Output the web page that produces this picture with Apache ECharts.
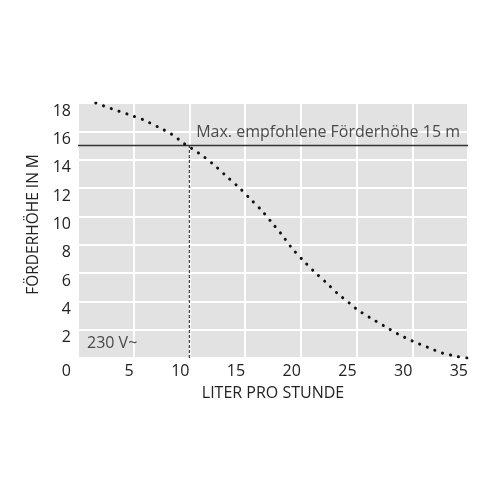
<!DOCTYPE html>
<html>
<head>
<meta charset="utf-8">
<script src="https://cdn.jsdelivr.net/npm/echarts@6/dist/echarts.min.js"></script>
<style>html,body{margin:0;padding:0;background:#fff;}#c{width:500px;height:500px;}</style>
</head>
<body>
<div id="c"></div>
<script>
// Curve: Förderhöhe (m) vs Liter pro Stunde
const flow = [1.6, 3.0, 4.5, 5.9, 7.2, 8.4, 9.5, 10.1, 11.3, 12.4, 13.5, 14.5, 15.5, 16.5, 17.4, 18.3, 19.2, 20.2, 21.2, 22.3, 23.3, 24.4, 25.0, 26.2, 27.5, 28.7, 30.0, 31.4, 32.7, 34.1, 34.9];
const head = [18.0, 17.6, 17.2, 16.8, 16.3, 15.8, 15.15, 14.85, 14.2, 13.5, 12.7, 12.0, 11.2, 10.4, 9.55, 8.7, 7.75, 6.9, 6.1, 5.3, 4.55, 3.85, 3.45, 2.85, 2.25, 1.7, 1.2, 0.75, 0.35, 0.1, 0.0];
const maxHead = 15;          // recommended max head
const maxHeadFlow = 10;      // flow at recommended max head
const xTicks = [0, 5, 10, 15, 20, 25, 30, 35];
const yTicks = [0, 2, 4, 6, 8, 10, 12, 14, 16, 18];
const maxLabel = 'Max. empfohlene Förderhöhe 15 m';
const voltLabel = '230 V~';
const xName = 'LITER PRO STUNDE';
const yName = 'FÖRDERHÖHE IN M';

const FONT = 'Open Sans';
const TXT = '#222';

const chart = echarts.init(document.getElementById('c'), null, {renderer: 'canvas'});
chart.setOption({
  animation: false,
  textStyle: {fontFamily: FONT},
  grid: {left: 78, right: 32, top: 103, bottom: 142, show: true, backgroundColor: '#e2e2e2', borderWidth: 0},
  xAxis: {
    type: 'value', min: xTicks[0], max: xTicks[xTicks.length - 1], interval: 5,
    name: xName, nameLocation: 'middle', nameGap: 27,
    nameTextStyle: {fontSize: 16, color: TXT, fontFamily: FONT},
    axisLine: {show: false}, axisTick: {show: false},
    axisLabel: {
      fontSize: 16, color: TXT, fontFamily: FONT, align: 'right', margin: 5, verticalAlign: 'top',
      formatter: v => v === 0 ? '{z|0}' : String(v),
      rich: {z: {fontSize: 16, color: TXT, fontFamily: FONT, padding: [0, 7, 0, 0]}}
    },
    splitLine: {show: true, lineStyle: {color: '#ffffff', width: 2}}
  },
  yAxis: {
    type: 'value', min: yTicks[0], max: yTicks[yTicks.length - 1], interval: 2,
    name: yName, nameLocation: 'middle', nameGap: 27, nameRotate: 90,
    nameTextStyle: {fontSize: 15.5, color: TXT, fontFamily: FONT, padding: [0, 0, 0, 12]},
    axisLine: {show: false}, axisTick: {show: false},
    axisLabel: {
      fontSize: 16, color: TXT, fontFamily: FONT, margin: 7, verticalAlign: 'top',
      formatter: v => v === 0 ? '' : String(v)
    },
    splitLine: {show: true, lineStyle: {color: '#ffffff', width: 2}}
  },
  series: [
    {
      type: 'line', data: flow.map((x, i) => [x, head[i]]), smooth: 0.3, symbol: 'none',
      lineStyle: {color: '#111', width: 3, type: [0.1, 8.1], cap: 'round'},
      z: 5
    },
    {
      type: 'line', data: [[xTicks[0], maxHead], [xTicks[xTicks.length - 1], maxHead]], symbol: 'none',
      lineStyle: {color: '#333', width: 1.6},
      z: 4
    },
    {
      type: 'line', data: [[maxHeadFlow, 0], [maxHeadFlow, maxHead]], symbol: 'none',
      lineStyle: {color: '#444', width: 1.3, type: [3, 2]},
      z: 3
    },
    {
      type: 'scatter', data: [[xTicks[xTicks.length - 1], maxHead]], symbolSize: 0,
      label: {show: true, formatter: maxLabel, position: 'left', offset: [-3, -13], fontSize: 16, color: TXT, fontFamily: FONT}
    },
    {
      type: 'scatter', data: [[xTicks[0], 0]], symbolSize: 0,
      label: {show: true, formatter: voltLabel, position: 'right', offset: [4, -15], fontSize: 16, color: TXT, fontFamily: FONT}
    }
  ]
});
</script>
</body>
</html>
